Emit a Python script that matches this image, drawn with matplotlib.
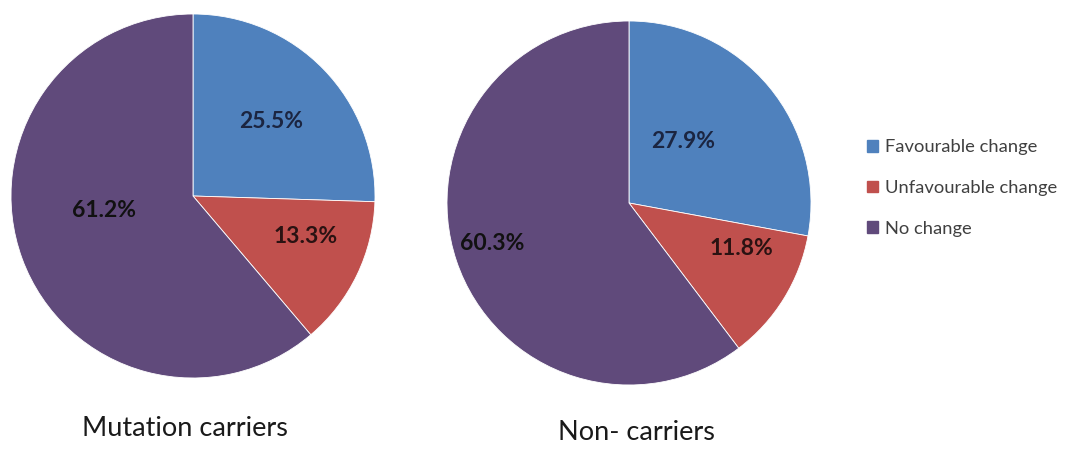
import matplotlib
matplotlib.use("Agg")
import matplotlib.pyplot as plt

categories = ["Favourable change", "Unfavourable change", "No change"]
mutation_carriers = [25.5, 13.3, 61.2]
non_carriers = [27.9, 11.8, 60.3]
group_titles = ["Mutation carriers", "Non- carriers"]

colors = ["#4F81BD", "#C0504D", "#604A7B"]
label_colors = ["#1B2541", "#2A1212", "#111111"]

plt.rcParams['font.family'] = ['Lato', 'DejaVu Sans']

W, H = 1085, 450
fig = plt.figure(figsize=(W / 100, H / 100), dpi=100)

# layout: pie centre (px), radius (px), label positions in radius units, title position (px)
layouts = [
    dict(cx=193, cy=196, r=182,
         lab=[(0.43, 0.41), (0.62, -0.22), (-0.49, -0.08)],
         title=(185, 428)),
    dict(cx=629, cy=203, r=182,
         lab=[(0.30, 0.34), (0.62, -0.25), (-0.75, -0.22)],
         title=(636, 433)),
]

datasets = [mutation_carriers, non_carriers]
for data, lay, title in zip(datasets, layouts, group_titles):
    r = lay["r"]
    ax = fig.add_axes([(lay["cx"] - r) / W, (H - lay["cy"] - r) / H, 2 * r / W, 2 * r / H])
    wedges, _ = ax.pie(data, colors=colors, startangle=90, counterclock=False,
                       radius=1, wedgeprops=dict(edgecolor="white", linewidth=0.6))
    ax.set_xlim(-1.0, 1.0)
    ax.set_ylim(-1.0, 1.0)
    for v, (lx, ly), lc in zip(data, lay["lab"], label_colors):
        ax.text(lx, ly, f"{v:.1f}%", ha="center", va="center", fontsize=16.5,
                fontweight="bold", color=lc)
    fig.text(lay["title"][0] / W, 1 - lay["title"][1] / H, title, ha="center",
             va="center", fontsize=19.5, color="#1a1a1a")

# legend
handles = [plt.Rectangle((0, 0), 1, 1, color=c) for c in colors]
fig.legend(handles, categories, loc="center left", bbox_to_anchor=(850 / W, 1 - 188 / H),
           frameon=False, fontsize=13.2, handlelength=0.6, handleheight=0.6,
           handletextpad=0.4, labelspacing=1.35, labelcolor="#404040")

fig.savefig("out.png", dpi=100, facecolor="white")
